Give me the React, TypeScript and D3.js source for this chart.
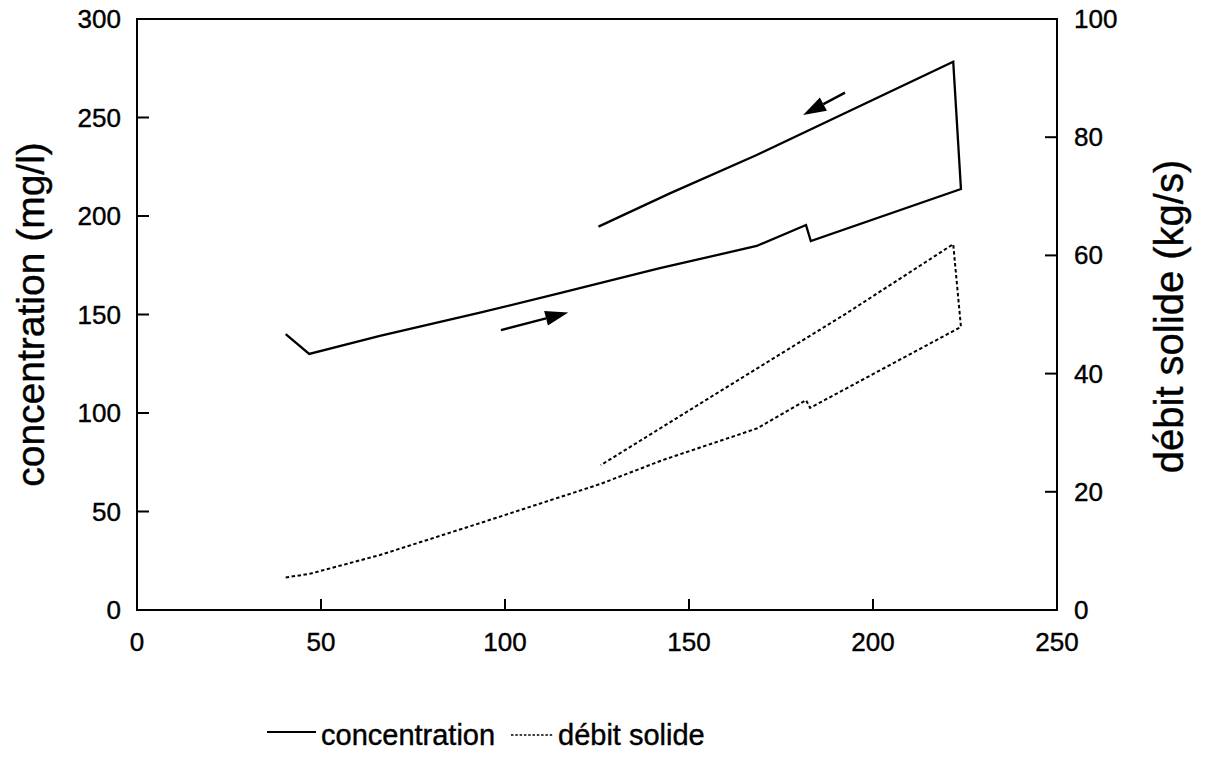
import React from "react";
import * as d3 from "d3";

// x values (discharge) and series values, in traversal order of the hysteresis loop
const concX = [40.4, 46.8, 66, 93.2, 114.9, 142.1, 168.4, 181.8, 183.1, 223.9, 221.8, 168.4, 144.8, 125.4];
const concY = [140.0, 130.0, 139.1, 150.9, 160.8, 173.5, 184.8, 195.4, 187.3, 213.7, 278.3, 231.0, 211.5, 194.6];

const debitX = [40.4, 46.8, 66, 93.2, 125.8, 143, 168.4, 181.8, 182.9, 223.9, 221.8, 192.8, 156.6, 126];
const debitY = [5.5, 6.1, 9.3, 14.7, 21.3, 25.4, 30.7, 35.5, 34.2, 47.9, 61.9, 50.2, 36.3, 24.5];

// arrows: [x0, c0, x1, c1] in data units (left axis)
const arrows = [
  [98.9, 142.1, 117.2, 151.0],
  [192.4, 262.6, 181.0, 251.3],
];

const xTicks = [0, 50, 100, 150, 200, 250];
const leftTicks = [0, 50, 100, 150, 200, 250, 300];
const rightTicks = [0, 20, 40, 60, 80, 100];

const leftLabel = "concentration (mg/l)";
const rightLabel = "débit solide (kg/s)";
const legendItems = ["concentration", "débit solide"];

const W = 1206;
const H = 757;
const L = 137, R = 1057, T = 19, B = 610;
const FONT = "'Liberation Sans', Arial, Helvetica, sans-serif";

export default function App() {
  const x = d3.scaleLinear().domain([0, 250]).range([L, R]);
  const yL = d3.scaleLinear().domain([0, 300]).range([B, T]);
  const yR = d3.scaleLinear().domain([0, 100]).range([B, T]);

  const concPts = concX.map((v, i) => [v, concY[i]] as [number, number]);
  const debPts = debitX.map((v, i) => [v, debitY[i]] as [number, number]);

  const lineL = d3.line<[number, number]>().x((d) => x(d[0])).y((d) => yL(d[1]));
  const lineR = d3.line<[number, number]>().x((d) => x(d[0])).y((d) => yR(d[1]));

  const arrowEls = arrows.map((a, i) => {
    const x0 = x(a[0]), y0 = yL(a[1]), x1 = x(a[2]), y1 = yL(a[3]);
    const ang = Math.atan2(y1 - y0, x1 - x0);
    const hl = 23, hw = 7.5;
    const bx = x1 - hl * Math.cos(ang), by = y1 - hl * Math.sin(ang);
    const px = -Math.sin(ang) * hw, py = Math.cos(ang) * hw;
    return (
      <g key={i}>
        <line x1={x0} y1={y0} x2={bx} y2={by} stroke="#000" strokeWidth={2.4} />
        <polygon points={`${x1},${y1} ${bx + px},${by + py} ${bx - px},${by - py}`} fill="#000" />
      </g>
    );
  });

  const txt = { stroke: "#000", strokeWidth: 0.4 };

  return (
    <svg width={W} height={H} style={{ position: "absolute", left: 0, top: 0, background: "#fff" }} fontFamily={FONT}>
      <rect x={0} y={0} width={W} height={H} fill="#fff" />
      {/* frame */}
      <rect x={L} y={T} width={R - L} height={B - T} fill="none" stroke="#000" strokeWidth={2} />
      {/* bottom ticks */}
      {xTicks.map((t) => (
        <g key={"x" + t}>
          {t > 0 && t < 250 && <line x1={x(t)} x2={x(t)} y1={B} y2={B - 11} stroke="#000" strokeWidth={2} />}
          <text x={x(t)} y={651} textAnchor="middle" fontSize={26} {...txt}>{t}</text>
        </g>
      ))}
      {/* left ticks */}
      {leftTicks.map((t) => (
        <g key={"l" + t}>
          {t > 0 && t < 300 && <line x1={L} x2={L + 12} y1={yL(t)} y2={yL(t)} stroke="#000" strokeWidth={2} />}
          <text x={121} y={yL(t) + 9} textAnchor="end" fontSize={26} {...txt}>{t}</text>
        </g>
      ))}
      {/* right ticks */}
      {rightTicks.map((t) => (
        <g key={"r" + t}>
          {t > 0 && t < 100 && <line x1={R} x2={R - 12} y1={yR(t)} y2={yR(t)} stroke="#000" strokeWidth={2} />}
          <text x={1074} y={yR(t) + 9} textAnchor="start" fontSize={26} {...txt}>{t}</text>
        </g>
      ))}
      {/* axis titles */}
      <text transform={`translate(44,${(T + B) / 2}) rotate(-90)`} textAnchor="middle" fontSize={39} {...txt}>{leftLabel}</text>
      <text transform={`translate(1183,${(T + B) / 2 + 2}) rotate(-90)`} textAnchor="middle" fontSize={40} {...txt}>{rightLabel}</text>
      {/* data */}
      <path d={lineL(concPts) || ""} fill="none" stroke="#000" strokeWidth={2.3} strokeLinejoin="miter" />
      <path d={lineR(debPts) || ""} fill="none" stroke="#000" strokeWidth={2} strokeDasharray="3.5,2.5" />
      {arrowEls}
      {/* legend */}
      <line x1={267} x2={316} y1={732} y2={732} stroke="#000" strokeWidth={2} />
      <text x={321} y={745} fontSize={29} {...txt}>{legendItems[0]}</text>
      <line x1={511} x2={553} y1={735} y2={735} stroke="#000" strokeWidth={1.5} strokeDasharray="2.5,1.8" />
      <text x={558} y={745} fontSize={29} {...txt}>{legendItems[1]}</text>
    </svg>
  );
}
